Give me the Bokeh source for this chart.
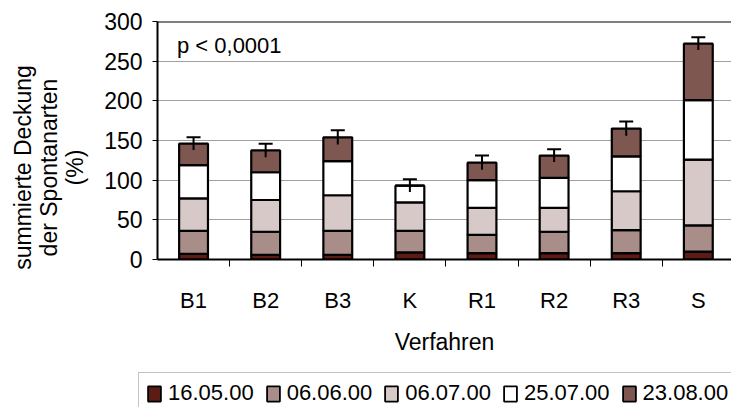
import math
import numpy as np
from bokeh.plotting import figure
from bokeh.layouts import column, row
from bokeh.models import (Range1d, FixedTicker, Whisker, TeeHead, ColumnDataSource,
                          Label, Span, Legend, LegendItem)
from bokeh.embed import file_html
from bokeh.resources import INLINE

# ---- data ----
categories = ["B1", "B2", "B3", "K", "R1", "R2", "R3", "S"]
dates = ["16.05.00", "06.06.00", "06.07.00", "25.07.00", "23.08.00"]
d_160500 = [7, 6, 6, 9, 8, 8, 8, 10]
d_060600 = [29, 29, 30, 27, 23, 27, 29, 33]
d_060700 = [41, 40, 45, 36, 34, 30, 49, 83]
d_250700 = [42, 35, 43, 21, 35, 38, 44, 75]
d_230800 = [27, 27.5, 30, 0, 22, 28, 35, 71]
errors = [8, 8.5, 9, 8, 9, 8, 9, 8]
y_ticks = [0, 50, 100, 150, 200, 250, 300]
y_title = "summierte Deckung\nder Spontanarten\n(%)"
x_title = "Verfahren"
note = "p < 0,0001"

colors = ["#5a1c14", "#a88d89", "#d6c9c7", "#ffffff", "#7e5751"]
FONT = "Liberation Sans"

series = [d_160500, d_060600, d_060700, d_250700, d_230800]
keys = ["s1", "s2", "s3", "s4", "s5"]
xs = [i + 0.5 for i in range(len(categories))]
totals = np.sum(np.array(series, dtype=float), axis=0)

src = ColumnDataSource(dict(x=xs, **{k: v for k, v in zip(keys, series)}))
wsrc = ColumnDataSource(dict(base=xs, upper=list(totals + np.array(errors)),
                             lower=list(totals - np.array(errors))))

LAB_W = 100
TOP_H = 367

# ---- y-axis title strip ----
lab = figure(width=LAB_W, height=TOP_H, x_range=Range1d(0, LAB_W), y_range=Range1d(0, TOP_H),
             output_backend="svg", toolbar_location=None,
             x_axis_location=None, y_axis_location=None,
             min_border_left=0, min_border_right=0, min_border_top=0, min_border_bottom=0)
lab.frame_align = False
lab.grid.visible = False
lab.outline_line_color = None
lab.background_fill_color = "white"
lab.border_fill_color = "white"
lab.add_layout(Label(x=48, y=TOP_H - 167, text=y_title, angle=math.pi / 2,
                     text_align="center", text_baseline="middle",
                     text_font=FONT, text_font_size="23px", text_line_height=1.0,
                     text_color="black"))

# ---- main chart ----
p = figure(width=731 - LAB_W, height=TOP_H, x_range=Range1d(0, 7.96), y_range=Range1d(0, 300),
           output_backend="svg", toolbar_location=None,
           min_border_left=157 - LAB_W, min_border_right=0, min_border_top=21,
           min_border_bottom=108)
p.frame_align = False
p.background_fill_color = "white"
p.border_fill_color = "white"
p.outline_line_color = None

rs = p.vbar_stack(keys, x="x", width=0.4, source=src, fill_color=colors,
                  line_color="black", line_width=2.2)

w = Whisker(source=wsrc, base="base", upper="upper", lower="lower",
            dimension="height", line_width=2, line_color="black",
            upper_head=TeeHead(size=14, line_width=2, line_color="black"),
            lower_head=None, level="overlay")
p.add_layout(w)

p.add_layout(Span(location=300, dimension="width", line_color="black", line_width=2))

p.xaxis.ticker = FixedTicker(ticks=xs, minor_ticks=list(range(1, len(categories))))
p.xaxis.major_label_overrides = {x: c for x, c in zip(xs, categories)}
p.xaxis.major_tick_out = 0
p.xaxis.major_tick_in = 0
p.xaxis.minor_tick_out = 7
p.xaxis.minor_tick_in = 0
p.xaxis.minor_tick_line_color = "black"
p.xaxis.major_label_standoff = 21
p.xaxis.major_label_text_font = FONT
p.xaxis.major_label_text_font_size = "22px"
p.xaxis.major_label_text_color = "black"
p.xaxis.axis_label = x_title
p.xaxis.axis_label_text_font = FONT
p.xaxis.axis_label_text_font_size = "23px"
p.xaxis.axis_label_text_font_style = "normal"
p.xaxis.axis_label_text_color = "black"
p.xaxis.axis_label_standoff = 13
p.xaxis.axis_line_width = 2
p.xaxis.axis_line_color = "black"

p.yaxis.ticker = FixedTicker(ticks=y_ticks, minor_ticks=[])
p.yaxis.major_tick_out = 5
p.yaxis.major_tick_in = 0
p.yaxis.minor_tick_out = 0
p.yaxis.major_label_standoff = 10
p.yaxis.major_label_text_font = FONT
p.yaxis.major_label_text_font_size = "23px"
p.yaxis.major_label_text_color = "black"
p.yaxis.axis_line_width = 2
p.yaxis.axis_line_color = "black"

p.xgrid.visible = False
p.ygrid.grid_line_color = "#a0a0a0"
p.ygrid.grid_line_width = 1

p.add_layout(Label(x=0.27, y=270, text=note, text_align="left",
                   text_baseline="alphabetic", text_font=FONT, text_font_size="22px",
                   text_color="black"))

# ---- legend strip ----
q = figure(width=731, height=407 - TOP_H, x_range=Range1d(0, 1), y_range=Range1d(0, 1),
           output_backend="svg", toolbar_location=None,
           x_axis_location=None, y_axis_location=None,
           min_border_left=0, min_border_right=0, min_border_top=0, min_border_bottom=0)
q.frame_align = False
q.grid.visible = False
q.outline_line_color = None
q.background_fill_color = "white"
q.border_fill_color = "white"
swatches = [q.vbar(x=[np.nan], top=[np.nan], width=0.1, fill_color=c, line_color="black",
                   line_width=1.8) for c in colors]

lg = Legend(items=[LegendItem(label=d, renderers=[r]) for d, r in zip(dates, swatches)])
lg.orientation = "horizontal"
lg.location = (138, -7)
lg.label_text_font = FONT
lg.label_text_font_size = "22px"
lg.label_text_color = "black"
lg.glyph_width = 16
lg.glyph_height = 19
lg.label_standoff = 6
lg.spacing = 11
lg.padding = 7
lg.margin = 0
lg.border_line_color = "#888888"
lg.border_line_width = 1
lg.background_fill_alpha = 1
q.add_layout(lg, "center")

layout = column(row(lab, p, spacing=0), q, spacing=0)
open("out.html", "w").write(file_html(layout, INLINE))
